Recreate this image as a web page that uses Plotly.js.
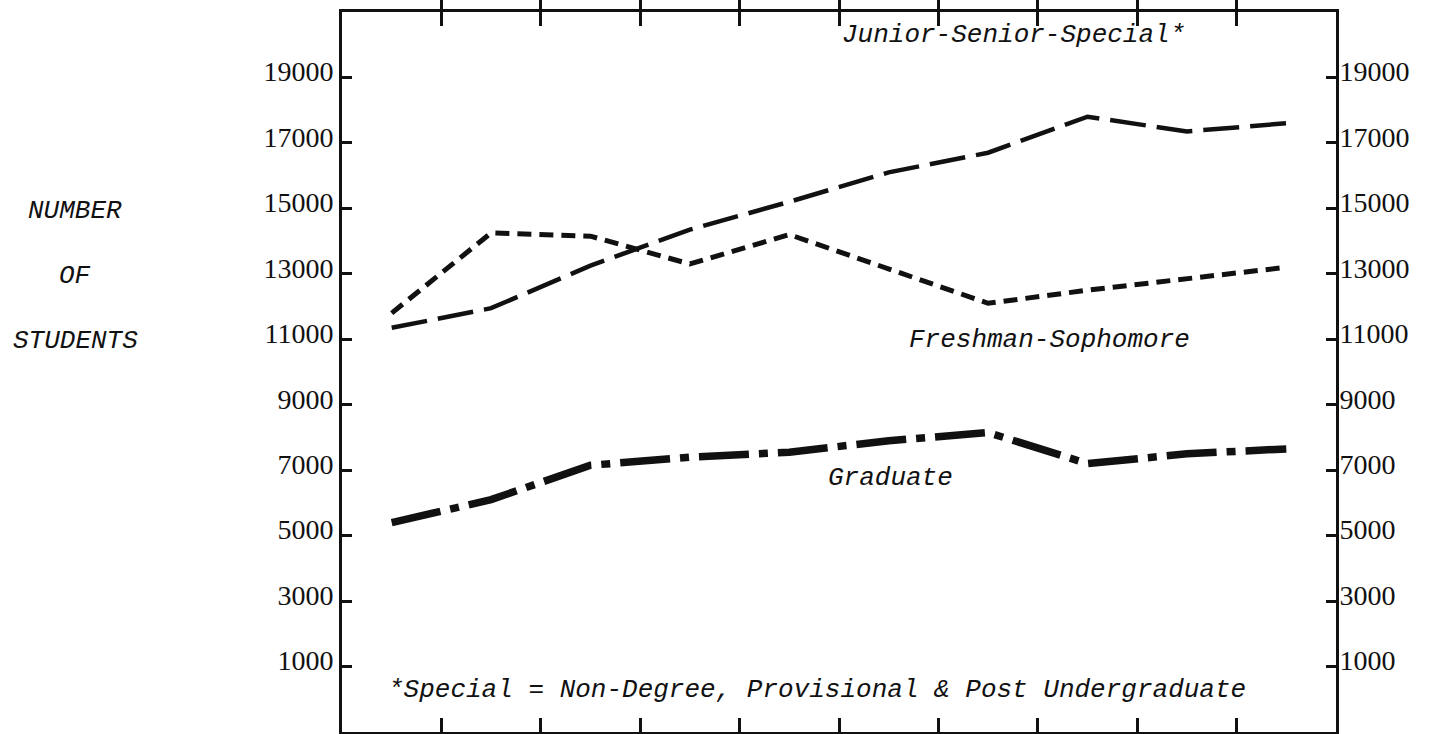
<!DOCTYPE html>
<html>
<head>
<meta charset="utf-8">
<script src="https://cdn.plot.ly/plotly-3.0.1.min.js"></script>
<style>
  html, body { margin: 0; padding: 0; background: #ffffff; }
  #chart { width: 1436px; height: 734px; }
</style>
</head>
<body>
<div id="chart"></div>
<script>
// ---- data ----
const periods = [1, 2, 3, 4, 5, 6, 7, 8, 9, 10];
const juniorSeniorSpecial = [11350, 11950, 13250, 14350, 15200, 16100, 16700, 17800, 17350, 17600];
const freshmanSophomore   = [11800, 14250, 14150, 13300, 14200, 13150, 12100, 12500, 12850, 13200];
const graduate            = [5400, 6100, 7150, 7400, 7550, 7900, 8150, 7200, 7500, 7650];
const yTickValues = [1000, 3000, 5000, 7000, 9000, 11000, 13000, 15000, 17000, 19000];
const yTickLabels = yTickValues.map(v => String(v));
const seriesNames = ['Junior-Senior-Special*', 'Freshman-Sophomore', 'Graduate'];
const footnote = '*Special = Non-Degree, Provisional & Post Undergraduate';
const yTitleLines = ['NUMBER', 'OF', 'STUDENTS'];

const ink = '#111111';
const mono = '"Liberation Mono", "Courier New", monospace';
const serif = '"Liberation Serif", "Times New Roman", serif';

const traces = [
  { x: periods, y: juniorSeniorSpecial, name: seriesNames[0], mode: 'lines',
    line: { color: ink, width: 4.5, dash: '36px,11px' } },
  { x: periods, y: freshmanSophomore, name: seriesNames[1], mode: 'lines',
    line: { color: ink, width: 5, dash: '14px,8px' } },
  { x: periods, y: graduate, name: seriesNames[2], mode: 'lines',
    line: { color: ink, width: 7.5, dash: '50px,10px,9px,10px' } },
  { x: periods, y: graduate, yaxis: 'y2', mode: 'lines', hoverinfo: 'skip',
    showlegend: false, line: { color: 'rgba(0,0,0,0)', width: 0 } }
];

const yAxisBase = {
  range: [-1000, 21000],
  tickmode: 'array', tickvals: yTickValues, ticktext: yTickLabels,
  ticks: 'inside', ticklen: 10, tickwidth: 3, tickcolor: ink,
  showline: true, linecolor: ink, linewidth: 3,
  showgrid: false, zeroline: false,
  tickfont: { family: serif, size: 28, color: ink },
  ticklabelshift: -6,
  fixedrange: true
};

const annText = (text, x, y, xanchor) => ({
  text: text, xref: 'paper', yref: 'paper', x: x, y: y,
  xanchor: xanchor || 'center', yanchor: 'middle', showarrow: false,
  font: { family: mono, size: 26, color: ink }
});

const annotations = [
  annText('<i>' + seriesNames[0] + '</i>', 0.676, 0.968),
  annText('<i>' + seriesNames[1] + '</i>', 0.712, 0.544),
  annText('<i>' + seriesNames[2] + '</i>', 0.552, 0.353),
  annText('<i>' + footnote + '</i>', 0.478, 0.058)
];
const titleY = [0.724, 0.634, 0.543];
yTitleLines.forEach((t, i) => annotations.push(annText('<i>' + t + '</i>', -0.2686, titleY[i])));

const layout = {
  width: 1436, height: 734,
  margin: { l: 342, r: 100, t: 12, b: 2 },
  paper_bgcolor: '#ffffff', plot_bgcolor: '#ffffff',
  showlegend: false,
  xaxis: {
    range: [0.5, 10.5],
    tick0: 1.5, dtick: 1, tickmode: 'linear',
    ticks: 'inside', ticklen: 14, tickwidth: 3, tickcolor: ink,
    showticklabels: false,
    showline: true, mirror: 'allticks', linecolor: ink, linewidth: 3,
    showgrid: false, zeroline: false, fixedrange: true
  },
  yaxis: Object.assign({}, yAxisBase, { side: 'left', ticklabelstandoff: 0 }),
  yaxis2: Object.assign({}, yAxisBase, { side: 'right', overlaying: 'y', ticklabelstandoff: -5 }),
  annotations: annotations
};

Plotly.newPlot('chart', traces, layout, { displayModeBar: false, staticPlot: true });
</script>
</body>
</html>
